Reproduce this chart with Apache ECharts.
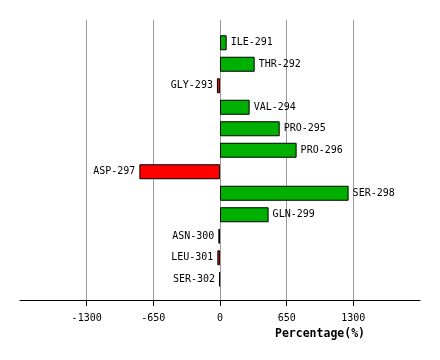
<!DOCTYPE html>
<html><head><meta charset="utf-8">
<script src="https://cdn.jsdelivr.net/npm/echarts@6/dist/echarts.min.js"></script>
<style>html,body{margin:0;padding:0;background:#fff}#c{width:440px;height:360px}</style>
</head><body><div id="c"></div>
<script>
var categories = ['ILE-291','THR-292','GLY-293','VAL-294','PRO-295','PRO-296','ASP-297','SER-298','GLN-299','ASN-300','LEU-301','SER-302'];
var values = [65, 338, -30, 289, 582, 747, -786, 1254, 474, -16, -26, -8];
var tickLabels = [-1300, -650, 0, 650, 1300];
var axisTitle = 'Percentage(%)';

var FONT = '"DejaVu Sans Mono", monospace';
var chart = echarts.init(document.getElementById('c'), null, {renderer: 'canvas'});
chart.setOption({
  animation: false,
  backgroundColor: '#fff',
  title: {text: axisTitle, left: 275, top: 328, padding: 0,
    textStyle: {fontFamily: FONT, fontSize: 11.5, fontWeight: 'bold', color: '#000'}},
  grid: [
    {left: 20 + 400/6, width: 400*4/6, top: 20, height: 280},
    {left: 20, width: 400, top: 32, height: 258},
    {left: 20, width: 400, top: 20, height: 280}
  ],
  xAxis: [
    {gridIndex: 0, type: 'value', min: tickLabels[0], max: tickLabels[tickLabels.length-1], interval: 650,
      axisLine: {show: false},
      axisTick: {show: true, length: 6, lineStyle: {color: '#000'}},
      splitLine: {show: true, lineStyle: {color: '#999', width: 1}},
      axisLabel: {margin: 13, fontFamily: FONT, fontSize: 10, color: '#000',
        formatter: function (v) { return String(v); }}},
    {gridIndex: 1, type: 'value', min: -1950, max: 1950, interval: 650,
      axisLine: {show: false}, axisTick: {show: false}, splitLine: {show: false}, axisLabel: {show: false}},
    {gridIndex: 2, type: 'value', min: -1950, max: 1950, interval: 650,
      axisLine: {show: true, onZero: false, lineStyle: {color: '#000', width: 1}},
      axisTick: {show: false}, splitLine: {show: false}, axisLabel: {show: false}}
  ],
  yAxis: [
    {gridIndex: 0, type: 'category', data: categories, show: false},
    {gridIndex: 1, type: 'category', data: categories, inverse: true, show: false},
    {gridIndex: 2, type: 'category', data: categories, show: false}
  ],
  series: [{
    type: 'bar', xAxisIndex: 1, yAxisIndex: 1,
    barWidth: 15,
    data: values.map(function (v) {
      return {
        value: v,
        itemStyle: {color: v >= 0 ? '#00b000' : '#ff0000', borderColor: '#000', borderWidth: 1},
        label: {show: true, position: v >= 0 ? 'right' : 'left', distance: 4,
          formatter: function (p) { return p.name; },
          fontFamily: FONT, fontSize: 10, color: '#000'}
      };
    })
  }]
});
</script></body></html>
